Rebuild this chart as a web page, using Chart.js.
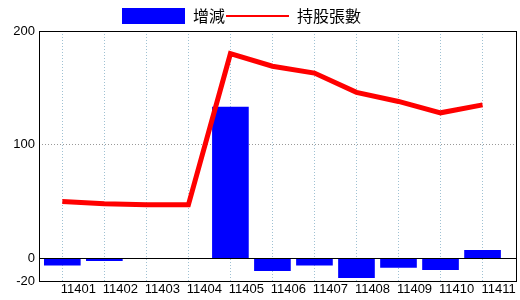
<!DOCTYPE html>
<html>
<head>
<meta charset="utf-8">
<script src="https://cdn.jsdelivr.net/npm/chart.js@4.4.1/dist/chart.umd.min.js"></script>
<style>
  html, body { margin: 0; padding: 0; background: #fff; }
  #wrap { width: 520px; height: 300px; }
</style>
</head>
<body>
<div id="wrap"><canvas id="holdings-chart" width="520" height="300"></canvas></div>
<script>
// ── Data ─────────────────────────────────────────────
const months        = ['11401', '11402', '11403', '11404', '11405', '11406', '11407', '11408', '11409', '11410', '11411'];
const changeValues  = [-6, -2, 0, 0, 133, -11, -6, -17, -8, -10, 7];
const holdingValues = [50, 48, 47, 47, 180, 169, 163, 146, 138, 128, 135];
const yTicks        = [-20, 0, 100, 200];

const TICK_FONT = { family: "'Liberation Sans Narrow', 'Liberation Sans', sans-serif", size: 13 };

// zero line + plot frame, drawn on top of the bars
const framePlugin = {
  id: 'frame',
  afterDatasetsDraw(chart) {
    const { ctx, chartArea: a, scales: { y } } = chart;
    const y0 = Math.round(y.getPixelForValue(0)) + 0.5;
    ctx.save();
    ctx.strokeStyle = '#000';
    ctx.lineWidth = 1;
    ctx.beginPath();
    ctx.moveTo(a.left, y0);
    ctx.lineTo(a.right, y0);
    ctx.stroke();
    ctx.strokeRect(Math.round(a.left) + 0.5, Math.round(a.top) + 0.5,
                   Math.round(a.right - a.left) - 1, Math.round(a.bottom - a.top));
    ctx.restore();
  },
};

// legend sits a bit left of centre, placed by hand above the plot
const legendNudge = {
  id: 'legendNudge',
  afterLayout(chart) {
    const lg = chart.legend;
    lg.left -= 17; lg.right -= 17;
    lg.top += 3;   lg.bottom += 3;
  },
};

new Chart(document.getElementById('holdings-chart'), {
  data: {
    datasets: [
      {
        type: 'bar',
        label: '增減',
        data: changeValues.map((v, i) => ({ x: i, y: v })),
        backgroundColor: '#0000ff',
        borderWidth: 0,
        barThickness: 36,
        order: 1,
      },
      {
        type: 'line',
        label: '持股張數',
        data: holdingValues.map((v, i) => ({ x: i, y: v })),
        borderColor: '#ff0000',
        backgroundColor: '#ff0000',
        borderWidth: 5,
        pointRadius: 0,
        tension: 0,
        fill: false,
        order: 0,
      },
    ],
  },
  options: {
    responsive: false,
    animation: false,
    layout: { padding: { top: 4, right: 3, left: 0, bottom: 0 } },
    plugins: {
      tooltip: { enabled: false },
      legend: {
        labels: {
          usePointStyle: true,
          pointStyleWidth: 63,
          boxHeight: 16,
          padding: 1,
          color: '#000',
          font: { family: "'Noto Sans CJK TC', sans-serif", size: 16 },
          generateLabels: chart => chart.data.datasets.map((ds, i) => ({
            text: ds.label,
            datasetIndex: i,
            fillStyle: ds.type === 'bar' ? ds.backgroundColor : 'transparent',
            strokeStyle: ds.type === 'bar' ? ds.backgroundColor : ds.borderColor,
            lineWidth: ds.type === 'bar' ? 0 : 2,
            pointStyle: ds.type === 'bar' ? 'rect' : 'line',
            fontColor: '#000',
          })),
        },
      },
    },
    scales: {
      x: {
        type: 'linear',
        offset: false,
        min: -0.555,
        max: 10.82,
        afterBuildTicks: s => { s.ticks = months.map((m, i) => ({ value: i })); },
        afterFit: s => { s.height = 19; },
        grid: { offset: false, color: '#9fc1d3', lineWidth: 1, drawTicks: false },
        border: { display: false, dash: [1, 2] },
        ticks: {
          callback: v => months[v],
          labelOffset: 16,
          padding: 1,
          maxRotation: 0,
          autoSkip: false,
          color: '#000',
          font: TICK_FONT,
        },
      },
      y: {
        min: -20,
        max: 200,
        afterBuildTicks: s => { s.ticks = yTicks.map(v => ({ value: v })); },
        afterFit: s => { s.width = 39; },
        grid: {
          color: c => (c.tick && c.tick.value === 100 ? '#999999' : 'transparent'),
          lineWidth: 1,
          drawTicks: false,
        },
        border: { display: false, dash: [1, 2] },
        ticks: { padding: 4, color: '#000', font: TICK_FONT },
      },
    },
  },
  plugins: [framePlugin, legendNudge],
});
</script>
</body>
</html>
